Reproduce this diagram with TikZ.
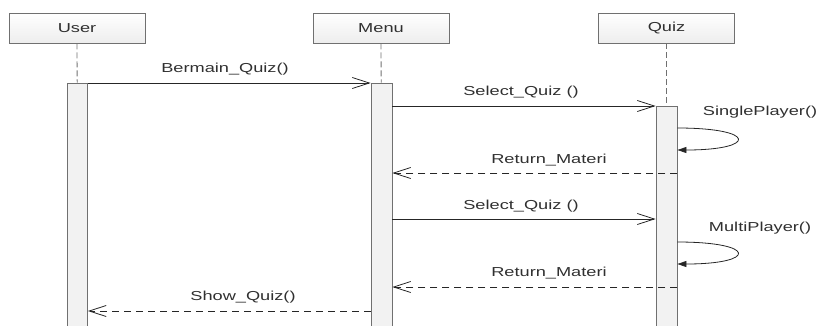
\documentclass[tikz,border=0pt]{standalone}
\usepackage{fontspec}
\setmainfont[FakeStretch=1.4]{Liberation Sans}
\usetikzlibrary{arrows.meta}
\definecolor{edge}{HTML}{707070}
\definecolor{ink}{HTML}{303030}
\tikzset{
  obj/.style={draw=edge, line width=0.8pt, top color=white, bottom color=black!7, minimum width=136pt, minimum height=30pt, inner sep=0pt, text=ink},
  act/.style={draw=edge, line width=0.8pt, fill=black!5, minimum width=20pt, inner sep=0pt},
  life/.style={draw=edge, line width=0.8pt, dash pattern=on 6pt off 3pt},
  msg/.style={draw=black!85, line width=0.8pt, -{Straight Barb[length=17pt,width=11pt]}},
  ret/.style={msg, dash pattern=on 7pt off 5pt},
  selfmsg/.style={draw=black!85, line width=0.8pt, -{Triangle[length=9pt,width=6pt]}},
  lbl/.style={text=ink, inner sep=0pt}
}
\begin{document}
\begin{tikzpicture}[x=1pt, y=-1pt, font=\fontsize{13}{15}\selectfont]
\useasboundingbox (0,0) rectangle (818,325);
\node[obj] (obj0) at (77,28){User};
\node[obj] (obj1) at (381,28){Menu};
\node[obj] (obj2) at (666.5,28){Quiz};
\node[act, minimum height=247pt] (act0) at (77.5,206.5){};
\node[act, minimum height=247pt, minimum width=21pt] (act1) at (381.5,206.5){};
\node[act, minimum height=224pt, minimum width=21pt] (act2) at (666.5,218){};
\draw[life](obj0) -- (act0);
\draw[life](obj1) -- (act1);
\draw[life](obj2) -- (act2);
\coordinate (m0) at (0,83);
\coordinate (m1) at (0,106);
\coordinate (m2) at (0,128);
\coordinate (m3) at (0,150);
\coordinate (m4) at (0,173);
\coordinate (m5) at (0,219);
\coordinate (m6) at (0,242);
\coordinate (m7) at (0,264);
\coordinate (m8) at (0,287);
\coordinate (m9) at (0,311);
\node[lbl] (lbl0) at (225,69){Bermain\_Quiz()};
\node[lbl] (lbl1) at (521,92){Select\_Quiz ()};
\node[lbl] (lbl2) at (760,112){SinglePlayer()};
\node[lbl] (lbl3) at (549,160){Return\_Materi};
\node[lbl] (lbl4) at (521,206){Select\_Quiz ()};
\node[lbl] (lbl5) at (760,228){MultiPlayer()};
\node[lbl] (lbl6) at (549,273){Return\_Materi};
\node[lbl] (lbl7) at (243,297){Show\_Quiz()};
\draw[msg](act0.east |- m0) -- (act1.west |- m0);
\draw[msg](act1.east |- m1) -- (act2.west |- m1);
\draw[selfmsg](act2.east |- m2) .. controls +(80,0) and +(80,0) .. (act2.east |- m3);
\draw[ret](act2.east |- m4) -- (act1.east |- m4);
\draw[msg](act1.east |- m5) -- (act2.west |- m5);
\draw[selfmsg](act2.east |- m6) .. controls +(80,0) and +(80,0) .. (act2.east |- m7);
\draw[ret](act2.east |- m8) -- (act1.east |- m8);
\draw[ret](act1.west |- m9) -- (act0.east |- m9);
\end{tikzpicture}
\end{document}
